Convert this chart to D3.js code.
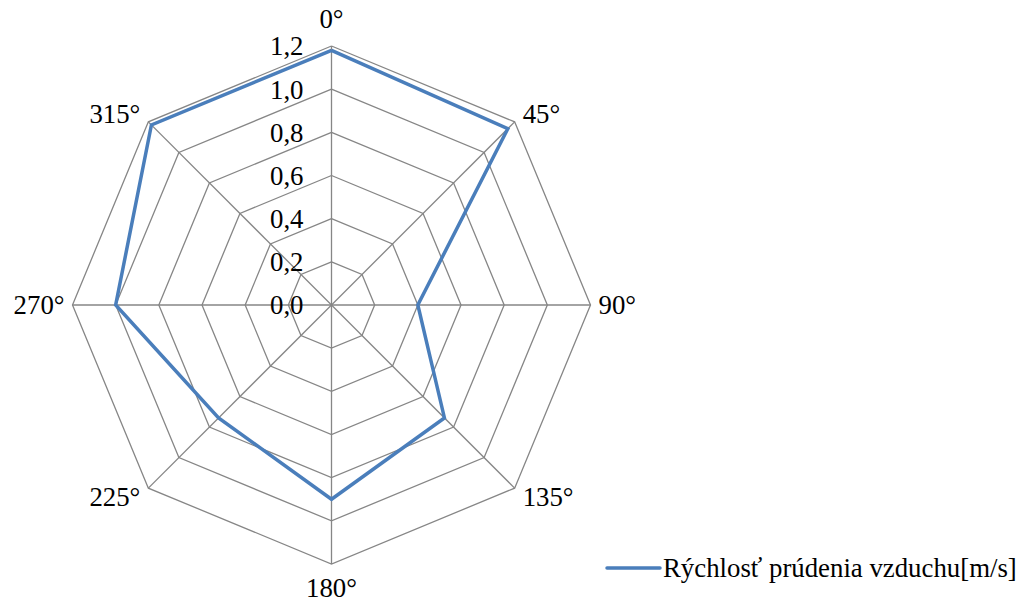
<!DOCTYPE html>
<html><head><meta charset="utf-8">
<script src="https://cdn.jsdelivr.net/npm/d3@7"></script>
<style>body{margin:0;background:#fff}svg{display:block}text{font-family:"Liberation Serif","Times New Roman",serif;fill:#000}</style>
</head><body>
<script>
const categories = ["0°","45°","90°","135°","180°","225°","270°","315°"];
const values = [1.18, 1.155, 0.40, 0.74, 0.90, 0.74, 1.00, 1.18];
const tickValues = [0,0.2,0.4,0.6,0.8,1.0,1.2];
const tickLabels = ["0,0","0,2","0,4","0,6","0,8","1,0","1,2"];
const seriesName = "Rýchlosť prúdenia vzduchu[m/s]";

const W=1021,H=603, cx=331.5, cy=305, R=259, fs=26.8;
const svg=d3.select("body").append("svg").attr("width",W).attr("height",H);
const r=d3.scaleLinear().domain([0,1.2]).range([0,R]);
const ang=d3.scaleLinear().domain([0,categories.length]).range([0,2*Math.PI]);
const pt=(i,v)=>[cx+r(v)*Math.sin(ang(i)), cy-r(v)*Math.cos(ang(i))];
const grid="#868686";
const g=svg.append("g");
tickValues.forEach(t=>{
  if(t===0) return;
  g.append("path").attr("d",d3.line()(categories.map((c,i)=>pt(i,t)).concat([pt(0,t)])))
   .attr("fill","none").attr("stroke",grid).attr("stroke-width",1.3);
});
categories.forEach((c,i)=>{
  const p=pt(i,1.2);
  g.append("line").attr("x1",cx).attr("y1",cy).attr("x2",p[0]).attr("y2",p[1])
   .attr("stroke",grid).attr("stroke-width",1.3);
});
svg.append("path").attr("d",d3.line()(values.map((v,i)=>pt(i,v)).concat([pt(0,values[0])])))
  .attr("fill","none").attr("stroke","#4a7ebb").attr("stroke-width",3.5).attr("stroke-linejoin","miter");
tickValues.forEach((t,k)=>{
  svg.append("text").attr("x",cx-28).attr("y",cy-r(t)).attr("dy","0.35em")
   .attr("text-anchor","end").attr("font-size",fs).text(tickLabels[k]);
});
categories.forEach((c,i)=>{
  const p=pt(i,1.2), s=Math.sin(ang(i)), co=Math.cos(ang(i));
  let anchor="middle", x=p[0], y=p[1];
  if(s>0.01){anchor="start"; x+=8;} else if(s<-0.01){anchor="end"; x-=8;}
  if(Math.abs(s)<0.01){ y-= co>0 ? 27.5 : -23.5; } else if(Math.abs(co)>0.01){ y-= co*12; }
  svg.append("text").attr("x",x).attr("y",y).attr("dy","0.35em").attr("text-anchor",anchor)
   .attr("font-size",fs).text(c);
});
svg.append("line").attr("x1",607).attr("x2",660).attr("y1",568).attr("y2",568)
  .attr("stroke","#4a7ebb").attr("stroke-width",3.5).attr("stroke-linecap","round");
svg.append("text").attr("x",663).attr("y",568).attr("dy","0.35em").attr("font-size",fs).text(seriesName);
</script>
</body></html>
